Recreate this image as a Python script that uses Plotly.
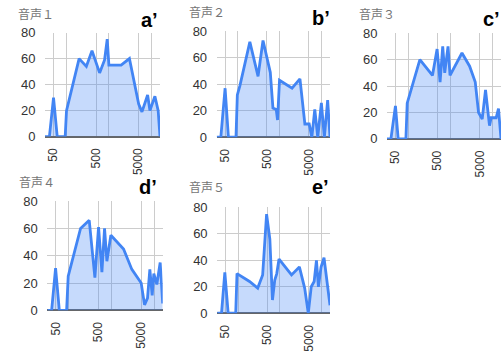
import math
import plotly.graph_objects as go

# ---- data ----
titles = ["音声１", "音声２", "音声３", "音声４", "音声５"]
letters = ["a\u2019", "b\u2019", "c\u2019", "d\u2019", "e\u2019"]

freq_a = [31.5, 40, 50, 61, 94, 101, 200, 296, 402, 607, 794, 917, 1003, 1950, 3050, 5040, 6020, 8180, 9270, 12130, 14500, 16000]
level_a = [0, 0, 30, 0, 0, 20, 60, 54, 66, 49, 59, 75, 55, 55, 60, 25, 19, 32, 20, 31, 20, 0]

freq_b = [31.5, 39.5, 50, 60, 91, 98, 113, 195, 306, 402, 600, 694, 831, 894, 996, 1985, 3065, 4020, 5093, 5890, 6930, 8160, 9960, 11720, 14060, 16000]
level_b = [0, 0, 37, 0, 0, 32, 39, 72, 46, 73, 49, 22, 21, 13, 43, 37, 44, 10, 10, 0, 21, 0, 26, 0, 28, 0]

freq_c = [31.5, 39, 50, 58, 88.5, 95, 190, 378, 487, 573, 662, 739, 885, 987, 1896, 2880, 3916, 4690, 5730, 6870, 8540, 9350, 12270, 13950, 16000]
level_c = [0, 0, 25, 0, 0, 27, 60, 48, 68, 43, 70, 50, 70, 48, 65, 55, 43, 20, 15, 37, 10, 16, 16, 23, 0]

freq_d = [31.5, 39.6, 49, 60, 89, 97, 189, 302, 410, 500, 599, 691, 784, 972, 1929, 3020, 5000, 6000, 7040, 7990, 9060, 9910, 11650, 13960, 16000]
level_d = [0, 0, 31, 0, 0, 25, 60, 66, 24, 61, 28, 60, 36, 55, 45, 30, 20, 4, 9, 30, 11, 27, 19, 35, 5]

freq_e = [31.5, 40, 48, 57.7, 87.6, 94, 188, 295, 388, 482, 577, 667, 757, 845, 958, 1910, 2950, 3950, 4820, 5670, 6670, 7570, 8440, 9760, 11490, 16000]
level_e = [0, 0, 31, 0, 0, 30, 24, 19, 29, 75, 56, 10, 25, 30, 41, 29, 35, 19, 0, 20, 24, 40, 20, 35, 42, 6]

x_tickvals = [50, 100, 500, 1000, 5000, 10000]
x_ticktext = ["50", "", "500", "", "5000", ""]
y_tickvals = [0, 20, 40, 60, 80]
x_min, x_max = 31.5, 16000

series = [(freq_a, level_a), (freq_b, level_b), (freq_c, level_c), (freq_d, level_d), (freq_e, level_e)]

# ---- layout geometry (pixels) ----
W, H = 501, 356
plot_boxes = [  # left, right, top, bottom in pixels
    (45, 160, 26.7, 135.3),
    (216.7, 330, 25.3, 136),
    (387, 501, 27.3, 137.7),
    (47.4, 162.7, 202.7, 316.7),
    (217.2, 330, 209.3, 319.7),
]
title_pos = [(16, 8.0), (187, 6.5), (357, 8.0), (17, 183.3), (187, 189)]
letter_pos = [(159.5, 13.5), (332, 11.5), (502, 12.5), (159, 187.5), (330.5, 187.5)]

FONT = "Arial, 'Liberation Sans', 'Noto Sans CJK JP', sans-serif"
BLUE = "#4285f4"

fig = go.Figure()
layout = dict(
    width=W, height=H,
    margin=dict(l=0, r=0, t=0, b=0),
    paper_bgcolor="white", plot_bgcolor="white",
    showlegend=False,
    font=dict(family=FONT, color="#333"),
    annotations=[],
)

for i, ((f, v), box) in enumerate(zip(series, plot_boxes)):
    n = "" if i == 0 else str(i + 1)
    fig.add_trace(go.Scatter(
        x=f, y=v, mode="lines",
        line=dict(color=BLUE, width=2.8),
        fill="tozeroy", fillcolor="rgba(66,133,244,0.3)",
        xaxis="x" + n, yaxis="y" + n, hoverinfo="skip",
    ))
    l, r, t, b = box
    layout["xaxis" + n] = dict(
        domain=[l / W, min(r / W, 1.0)],
        anchor="y" + n,
        type="log",
        range=[math.log10(x_min), math.log10(x_max)],
        tickvals=x_tickvals, ticktext=x_ticktext,
        tickangle=-90,
        showgrid=True, gridcolor="#cccccc", gridwidth=1,
        zeroline=False, showline=False,
        ticks="outside", ticklen=6, tickcolor="rgba(0,0,0,0)",
        tickfont=dict(size=12, color="#333", family=FONT),
        fixedrange=True,
    )
    layout["yaxis" + n] = dict(
        domain=[1 - b / H, 1 - t / H],
        anchor="x" + n,
        range=[0, 80],
        tickvals=y_tickvals,
        showgrid=True, gridcolor="#cccccc", gridwidth=1,
        zeroline=True, zerolinecolor="#666666", zerolinewidth=1.5,
        showline=False,
        ticks="outside", ticklen=6, tickcolor="rgba(0,0,0,0)",
        tickfont=dict(size=13, color="#333", family=FONT),
        fixedrange=True,
    )
    tx, ty = title_pos[i]
    layout["annotations"].append(dict(
        text=titles[i], xref="paper", yref="paper",
        x=tx / W, y=1 - ty / H, xanchor="left", yanchor="middle",
        showarrow=False, font=dict(size=12, color="#757575", family=FONT),
    ))
    lx, ly = letter_pos[i]
    layout["annotations"].append(dict(
        text="<b>" + letters[i] + "</b>", xref="paper", yref="paper",
        x=lx / W, y=1 - ly / H, xanchor="right", yanchor="middle",
        showarrow=False, font=dict(size=20, color="#000", family=FONT),
    ))

fig.update_layout(**layout)
fig.write_html(
    "out.html",
    config={"displayModeBar": False},
    post_script="document.body.style.margin='0';document.body.style.overflow='hidden';",
)
